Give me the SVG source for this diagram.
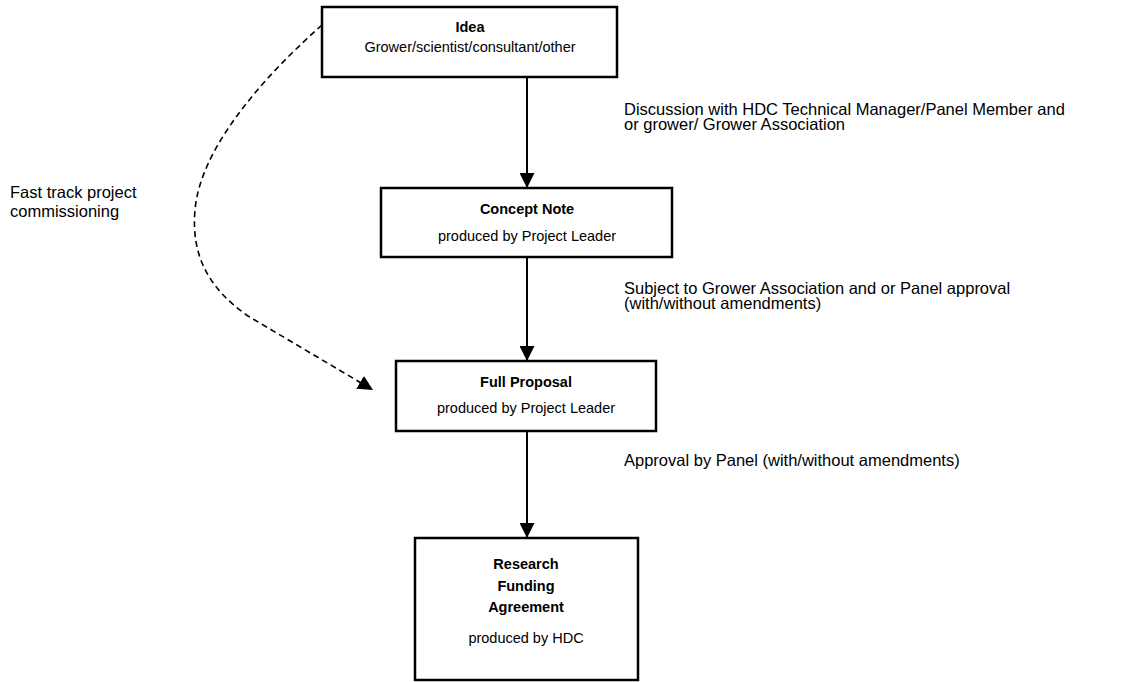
<svg xmlns="http://www.w3.org/2000/svg" width="1136" height="682" viewBox="0 0 1136 682">
<style>
.box{fill:#fff;stroke:#000;stroke-width:2.5}
.t{font-family:"Liberation Sans",Arial,sans-serif;font-size:14.5px;fill:#000}
.l{font-family:"Liberation Sans",Arial,sans-serif;font-size:16.5px;fill:#000}
.b{font-weight:bold}
.c{text-anchor:middle}
.ln{stroke:#000;stroke-width:2;fill:none}
.dash{stroke:#000;stroke-width:1.6;fill:none;stroke-dasharray:6 4}
</style>
<defs>
<marker id="ah" markerWidth="15" markerHeight="15" refX="14" refY="7" orient="auto" markerUnits="userSpaceOnUse" viewBox="0 0 14 14">
<path d="M0,0 L14,7 L0,14 z" fill="#000"/>
</marker>
</defs>
<g id="connectors">
<line class="ln" x1="527" y1="77" x2="527" y2="188" marker-end="url(#ah)"/>
<line class="ln" x1="527" y1="257" x2="527" y2="361" marker-end="url(#ah)"/>
<line class="ln" x1="527" y1="431" x2="527" y2="538" marker-end="url(#ah)"/>
<path class="dash" d="M322,25 C260,80 200,150 195,210 C191,255 208,288 248,316 L373,390" marker-end="url(#ah)"/>
<text class="l" x="624" y="115">Discussion with HDC Technical Manager/Panel Member and</text>
<text class="l" x="624" y="130">or grower/ Grower Association</text>
<text class="l" x="624" y="294">Subject to Grower Association and or Panel approval</text>
<text class="l" x="624" y="309">(with/without amendments)</text>
<text class="l" x="624" y="466">Approval by Panel (with/without amendments)</text>
<text class="l" x="10" y="198">Fast track project</text>
<text class="l" x="10" y="217">commissioning</text>
</g>
<g id="idea">
<rect class="box" x="322" y="7" width="295" height="70"/>
<text class="t b c" x="470" y="32">Idea</text>
<text class="t c" x="470" y="52">Grower/scientist/consultant/other</text>
</g>
<g id="concept">
<rect class="box" x="381" y="188" width="291" height="69"/>
<text class="t b c" x="527" y="214">Concept Note</text>
<text class="t c" x="527" y="241">produced by Project Leader</text>
</g>
<g id="proposal">
<rect class="box" x="396" y="361" width="260" height="70"/>
<text class="t b c" x="526" y="387">Full Proposal</text>
<text class="t c" x="526" y="413">produced by Project Leader</text>
</g>
<g id="agreement">
<rect class="box" x="415" y="538" width="223" height="142"/>
<text class="t b c" x="526" y="569">Research</text>
<text class="t b c" x="526" y="591">Funding</text>
<text class="t b c" x="526" y="612">Agreement</text>
<text class="t c" x="526" y="643">produced by HDC</text>
</g>
</svg>
